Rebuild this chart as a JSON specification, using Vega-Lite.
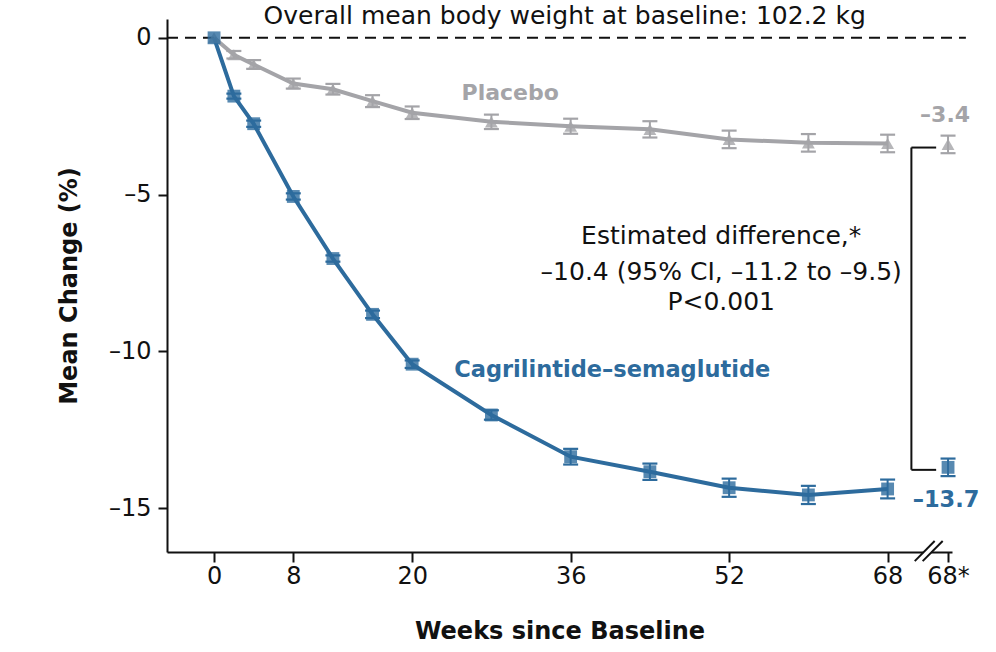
{
  "$schema": "https://vega.github.io/schema/vega-lite/v6.json",
  "width": 785,
  "height": 533,
  "autosize": "none",
  "padding": {"left": 167, "top": 19, "right": 44, "bottom": 100},
  "config": {
    "view": {"stroke": null},
    "font": "DejaVu Sans",
    "axis": {
      "domainColor": "#111111",
      "domainWidth": 2,
      "tickColor": "#111111",
      "tickWidth": 2,
      "labelColor": "#111111",
      "labelFont": "DejaVu Sans",
      "labelFontSize": 24,
      "titleFont": "DejaVu Sans",
      "titleFontSize": 24,
      "titleFontWeight": "bold",
      "titleColor": "#111111",
      "grid": false
    }
  },
  "datasets": {
    "visits": [
      {"group": "Placebo", "week": 0, "mean": 0, "lo": 0, "hi": 0},
      {"group": "Placebo", "week": 2, "mean": -0.54, "lo": -0.66, "hi": -0.42},
      {"group": "Placebo", "week": 4, "mean": -0.85, "lo": -0.99, "hi": -0.71},
      {"group": "Placebo", "week": 8, "mean": -1.46, "lo": -1.62, "hi": -1.30},
      {"group": "Placebo", "week": 12, "mean": -1.64, "lo": -1.81, "hi": -1.47},
      {"group": "Placebo", "week": 16, "mean": -2.02, "lo": -2.21, "hi": -1.83},
      {"group": "Placebo", "week": 20, "mean": -2.39, "lo": -2.59, "hi": -2.19},
      {"group": "Placebo", "week": 28, "mean": -2.68, "lo": -2.91, "hi": -2.45},
      {"group": "Placebo", "week": 36, "mean": -2.82, "lo": -3.06, "hi": -2.58},
      {"group": "Placebo", "week": 44, "mean": -2.92, "lo": -3.18, "hi": -2.66},
      {"group": "Placebo", "week": 52, "mean": -3.24, "lo": -3.52, "hi": -2.96},
      {"group": "Placebo", "week": 60, "mean": -3.35, "lo": -3.63, "hi": -3.07},
      {"group": "Placebo", "week": 68, "mean": -3.37, "lo": -3.65, "hi": -3.09},
      {"group": "Cagrilintide–semaglutide", "week": 0, "mean": 0, "lo": 0, "hi": 0},
      {"group": "Cagrilintide–semaglutide", "week": 2, "mean": -1.86, "lo": -1.94, "hi": -1.78},
      {"group": "Cagrilintide–semaglutide", "week": 4, "mean": -2.74, "lo": -2.84, "hi": -2.64},
      {"group": "Cagrilintide–semaglutide", "week": 8, "mean": -5.06, "lo": -5.16, "hi": -4.96},
      {"group": "Cagrilintide–semaglutide", "week": 12, "mean": -7.04, "lo": -7.14, "hi": -6.94},
      {"group": "Cagrilintide–semaglutide", "week": 16, "mean": -8.82, "lo": -8.94, "hi": -8.70},
      {"group": "Cagrilintide–semaglutide", "week": 20, "mean": -10.41, "lo": -10.53, "hi": -10.29},
      {"group": "Cagrilintide–semaglutide", "week": 28, "mean": -12.03, "lo": -12.18, "hi": -11.88},
      {"group": "Cagrilintide–semaglutide", "week": 36, "mean": -13.36, "lo": -13.61, "hi": -13.11},
      {"group": "Cagrilintide–semaglutide", "week": 44, "mean": -13.84, "lo": -14.10, "hi": -13.58},
      {"group": "Cagrilintide–semaglutide", "week": 52, "mean": -14.35, "lo": -14.64, "hi": -14.06},
      {"group": "Cagrilintide–semaglutide", "week": 60, "mean": -14.58, "lo": -14.87, "hi": -14.29},
      {"group": "Cagrilintide–semaglutide", "week": 68, "mean": -14.39, "lo": -14.69, "hi": -14.09}
    ],
    "final": [
      {"group": "Placebo", "week": 74.1, "mean": -3.4, "lo": -3.68, "hi": -3.12},
      {"group": "Cagrilintide–semaglutide", "week": 74.1, "mean": -13.7, "lo": -13.98, "hi": -13.42}
    ],
    "bracket": [
      {"x1": 70.4, "x2": 72.9, "y1": -3.5, "y2": -3.5},
      {"x1": 70.4, "x2": 70.4, "y1": -3.5, "y2": -13.78},
      {"x1": 70.4, "x2": 72.9, "y1": -13.78, "y2": -13.78}
    ],
    "slashes": [
      {"x1": 70.74, "x2": 72.75, "y1": -16.69, "y2": -16.05},
      {"x1": 71.54, "x2": 73.56, "y1": -16.69, "y2": -16.05}
    ]
  },
  "layer": [
    {
      "data": {"values": [{"x1": -4.75, "x2": 75.9, "y": 0}]},
      "mark": {"type": "rule", "color": "#111111", "strokeWidth": 2, "strokeDash": [11, 7], "clip": false},
      "encoding": {
        "x": {"field": "x1", "type": "quantitative", "scale": {"domain": [-4.75, 74.5], "nice": false, "zero": false},
          "axis": {"values": [0, 8, 20, 36, 52, 68, 74.1], "title": "Weeks since Baseline", "tickSize": 10, "labelPadding": 2, "titlePadding": 31,
            "labelExpr": "datum.value > 70 ? '68*' : datum.label"}},
        "x2": {"field": "x2"},
        "y": {"field": "y", "type": "quantitative", "scale": {"domain": [-16.4, 0.6], "nice": false, "zero": false},
          "axis": {"values": [0, -5, -10, -15], "title": "Mean Change (%)", "tickSize": 9, "labelPadding": 7, "titlePadding": 27,
            "labelExpr": "datum.value < 0 ? '–' + format(-datum.value, 'd') : datum.label"}}
      }
    },
    {
      "data": {"name": "breakMask", "values": [{"x1": 71.6, "x2": 72.4, "y": -16.4}]},
      "mark": {"type": "rule", "color": "white", "strokeWidth": 5, "clip": false},
      "encoding": {
        "x": {"field": "x1", "type": "quantitative"},
        "x2": {"field": "x2"},
        "y": {"field": "y", "type": "quantitative"}
      }
    },
    {
      "data": {"name": "slashes"},
      "mark": {"type": "rule", "color": "#111111", "strokeWidth": 2, "clip": false},
      "encoding": {
        "x": {"field": "x1", "type": "quantitative"},
        "x2": {"field": "x2"},
        "y": {"field": "y1", "type": "quantitative"},
        "y2": {"field": "y2"}
      }
    },
    {
      "data": {"name": "visits"},
      "mark": {"type": "line", "strokeWidth": 4},
      "encoding": {
        "x": {"field": "week", "type": "quantitative"},
        "y": {"field": "mean", "type": "quantitative"},
        "detail": {"field": "group"},
        "color": {"field": "group", "type": "nominal",
          "scale": {"domain": ["Placebo", "Cagrilintide–semaglutide"], "range": ["#a4a4a8", "#2d6b9d"]}, "legend": null},
        "order": {"field": "week", "type": "quantitative"}
      }
    },
    {
      "data": {"name": "visits"},
      "transform": [{"filter": "datum.week > 0"}],
      "layer": [
        {
          "mark": {"type": "rule", "strokeWidth": 2},
          "encoding": {
            "x": {"field": "week", "type": "quantitative"},
            "y": {"field": "lo", "type": "quantitative"},
            "y2": {"field": "hi"},
            "color": {"field": "group", "type": "nominal", "legend": null}
          }
        },
        {
          "mark": {"type": "point", "shape": "M-1,0L1,0", "filled": false, "strokeWidth": 2.2, "size": 225, "opacity": 1},
          "encoding": {
            "x": {"field": "week", "type": "quantitative"},
            "y": {"field": "lo", "type": "quantitative"},
            "color": {"field": "group", "type": "nominal", "legend": null}
          }
        },
        {
          "mark": {"type": "point", "shape": "M-1,0L1,0", "filled": false, "strokeWidth": 2.2, "size": 225, "opacity": 1},
          "encoding": {
            "x": {"field": "week", "type": "quantitative"},
            "y": {"field": "hi", "type": "quantitative"},
            "color": {"field": "group", "type": "nominal", "legend": null}
          }
        }
      ]
    },
    {
      "data": {"name": "final"},
      "layer": [
        {
          "mark": {"type": "rule", "strokeWidth": 2, "clip": false},
          "encoding": {
            "x": {"field": "week", "type": "quantitative"},
            "y": {"field": "lo", "type": "quantitative"},
            "y2": {"field": "hi"},
            "color": {"field": "group", "type": "nominal", "legend": null}
          }
        },
        {
          "mark": {"type": "point", "shape": "M-1,0L1,0", "filled": false, "strokeWidth": 2.2, "size": 225, "opacity": 1, "clip": false},
          "encoding": {
            "x": {"field": "week", "type": "quantitative"},
            "y": {"field": "lo", "type": "quantitative"},
            "color": {"field": "group", "type": "nominal", "legend": null}
          }
        },
        {
          "mark": {"type": "point", "shape": "M-1,0L1,0", "filled": false, "strokeWidth": 2.2, "size": 225, "opacity": 1, "clip": false},
          "encoding": {
            "x": {"field": "week", "type": "quantitative"},
            "y": {"field": "hi", "type": "quantitative"},
            "color": {"field": "group", "type": "nominal", "legend": null}
          }
        }
      ]
    },
    {
      "data": {"name": "visits"},
      "mark": {"type": "point", "filled": true, "size": 165, "opacity": 0.8},
      "encoding": {
        "x": {"field": "week", "type": "quantitative"},
        "y": {"field": "mean", "type": "quantitative"},
        "color": {"field": "group", "type": "nominal", "legend": null},
        "shape": {"field": "group", "type": "nominal",
          "scale": {"domain": ["Placebo", "Cagrilintide–semaglutide"], "range": ["triangle-up", "square"]}, "legend": null}
      }
    },
    {
      "data": {"name": "final"},
      "mark": {"type": "point", "filled": true, "size": 165, "opacity": 0.8, "clip": false},
      "encoding": {
        "x": {"field": "week", "type": "quantitative"},
        "y": {"field": "mean", "type": "quantitative"},
        "color": {"field": "group", "type": "nominal", "legend": null},
        "shape": {"field": "group", "type": "nominal", "legend": null}
      }
    },
    {
      "data": {"name": "bracket"},
      "mark": {"type": "rule", "color": "#111111", "strokeWidth": 2, "clip": false},
      "encoding": {
        "x": {"field": "x1", "type": "quantitative"},
        "x2": {"field": "x2"},
        "y": {"field": "y1", "type": "quantitative"},
        "y2": {"field": "y2"}
      }
    },
    {
      "data": {"values": [
        {"x": 35.4, "y": 0.7, "text": "Overall mean body weight at baseline: 102.2 kg"},
        {"x": 51.2, "y": -6.33, "text": "Estimated difference,*"},
        {"x": 51.2, "y": -7.48, "text": "–10.4 (95% CI, –11.2 to –9.5)"},
        {"x": 51.2, "y": -8.43, "text": "P<0.001"}
      ]},
      "mark": {"type": "text", "font": "DejaVu Sans", "fontSize": 25, "color": "#111111", "align": "center", "baseline": "middle", "clip": false},
      "encoding": {
        "x": {"field": "x", "type": "quantitative"},
        "y": {"field": "y", "type": "quantitative"},
        "text": {"field": "text"}
      }
    },
    {
      "data": {"values": [
        {"x": 29.9, "y": -1.77, "text": "Placebo"},
        {"x": 73.8, "y": -2.47, "text": "–3.4"}
      ]},
      "mark": {"type": "text", "font": "DejaVu Sans", "fontSize": 22, "fontWeight": "bold", "color": "#a4a4a8", "align": "center", "baseline": "middle", "clip": false},
      "encoding": {
        "x": {"field": "x", "type": "quantitative"},
        "y": {"field": "y", "type": "quantitative"},
        "text": {"field": "text"}
      }
    },
    {
      "data": {"values": [
        {"x": 40.2, "y": -10.6, "text": "Cagrilintide–semaglutide"},
        {"x": 73.9, "y": -14.74, "text": "–13.7"}
      ]},
      "mark": {"type": "text", "font": "DejaVu Sans", "fontSize": 22.5, "fontWeight": "bold", "color": "#2d6b9d", "align": "center", "baseline": "middle", "clip": false},
      "encoding": {
        "x": {"field": "x", "type": "quantitative"},
        "y": {"field": "y", "type": "quantitative"},
        "text": {"field": "text"}
      }
    }
  ]
}
